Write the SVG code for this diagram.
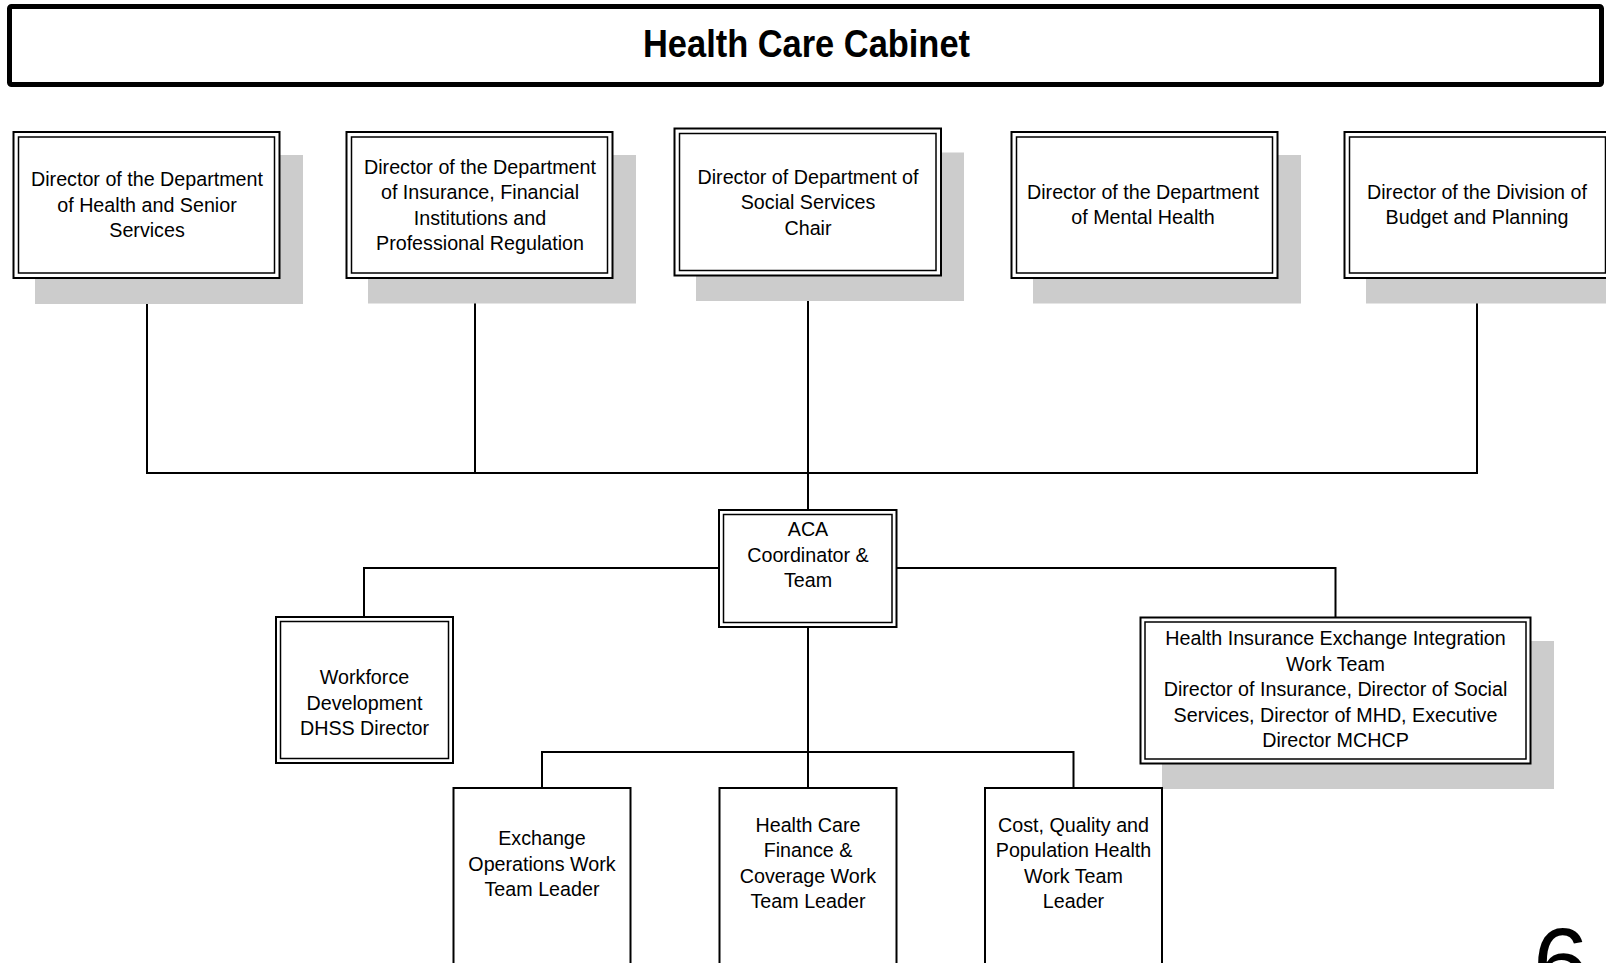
<svg xmlns="http://www.w3.org/2000/svg" width="1606" height="963" viewBox="0 0 1606 963">
<style>
  text { font-family: "Liberation Sans", Arial, sans-serif; font-size: 19.7px; fill: #000; text-anchor: middle; }
  .title { font-size: 39px; font-weight: bold; }
  .big { font-size: 100px; text-anchor: start; }
  .shadow { fill: #cccccc; stroke: none; }
  .outer { fill: #fff; stroke: #000; stroke-width: 2; }
  .inner { fill: none; stroke: #000; stroke-width: 1.5; }
  .single { fill: #fff; stroke: #000; stroke-width: 2; }
  .conn line, .conn polyline { fill: none; stroke: #000; stroke-width: 2; }
</style>
<rect width="1606" height="963" fill="#fff"/>

<g id="title">
  <rect x="9.5" y="6.5" width="1592" height="78" rx="2" fill="#fff" stroke="#000" stroke-width="5"/>
  <text class="title" x="806.5" y="57" textLength="327" lengthAdjust="spacingAndGlyphs">Health Care Cabinet</text>
</g>

<g class="conn" id="connectors">
  <line x1="147" y1="278" x2="147" y2="473"/>
  <line x1="475" y1="288" x2="475" y2="473"/>
  <line x1="808" y1="276" x2="808" y2="510"/>
  <line x1="1477" y1="278" x2="1477" y2="473"/>
  <line x1="146" y1="473" x2="1478" y2="473"/>
  <polyline points="719,568 364,568 364,617"/>
  <polyline points="897,568 1335.5,568 1335.5,617"/>
  <line x1="808" y1="627" x2="808" y2="788"/>
  <polyline points="542,788 542,752 1073.5,752 1073.5,788"/>
</g>

<g id="dhss">
  <rect class="shadow" x="35" y="155" width="268" height="149"/>
  <rect class="outer" x="13.5" y="132" width="266" height="146"/>
  <rect class="inner" x="18.5" y="137" width="256" height="136"/>
  <text x="147" y="186">Director of the Department</text>
  <text x="147" y="211.5">of Health and Senior</text>
  <text x="147" y="237">Services</text>
</g>

<g id="difp">
  <rect class="shadow" x="368" y="155" width="268" height="148.5"/>
  <rect class="outer" x="346.5" y="132" width="266" height="146"/>
  <rect class="inner" x="351.5" y="137" width="256" height="136"/>
  <text x="480" y="173.5">Director of the Department</text>
  <text x="480" y="199">of Insurance, Financial</text>
  <text x="480" y="224.5">Institutions and</text>
  <text x="480" y="250">Professional Regulation</text>
</g>

<g id="dss">
  <rect class="shadow" x="696" y="152.5" width="268" height="148.5"/>
  <rect class="outer" x="674.5" y="128.5" width="266.5" height="147"/>
  <rect class="inner" x="679.5" y="133.5" width="256.5" height="137"/>
  <text x="808" y="183.5">Director of Department of</text>
  <text x="808" y="209">Social Services</text>
  <text x="808" y="234.5">Chair</text>
</g>

<g id="dmh">
  <rect class="shadow" x="1033" y="155" width="268" height="148.5"/>
  <rect class="outer" x="1011.5" y="132" width="266" height="146"/>
  <rect class="inner" x="1016.5" y="137" width="256" height="136"/>
  <text x="1143" y="198.5">Director of the Department</text>
  <text x="1143" y="224">of Mental Health</text>
</g>

<g id="budget">
  <rect class="shadow" x="1366" y="155" width="268" height="148.5"/>
  <rect class="outer" x="1344.5" y="132" width="266" height="146"/>
  <rect class="inner" x="1349.5" y="137" width="256" height="136"/>
  <text x="1477" y="198.5">Director of the Division of</text>
  <text x="1477" y="224">Budget and Planning</text>
</g>

<g id="aca">
  <rect class="outer" x="719" y="510" width="177.5" height="117"/>
  <rect class="inner" x="723.5" y="514.5" width="168.5" height="108"/>
  <text x="808" y="536">ACA</text>
  <text x="808" y="561.5">Coordinator &amp;</text>
  <text x="808" y="587">Team</text>
</g>

<g id="workforce">
  <rect class="outer" x="276" y="617" width="177" height="146"/>
  <rect class="inner" x="280.5" y="621.5" width="168" height="137"/>
  <text x="364.5" y="684">Workforce</text>
  <text x="364.5" y="709.5">Development</text>
  <text x="364.5" y="735">DHSS Director</text>
</g>

<g id="hix">
  <rect class="shadow" x="1162" y="641" width="392" height="148"/>
  <rect class="outer" x="1140.5" y="617.5" width="390" height="146"/>
  <rect class="inner" x="1145" y="622" width="381" height="137"/>
  <text x="1335.5" y="645">Health Insurance Exchange Integration</text>
  <text x="1335.5" y="670.5">Work Team</text>
  <text x="1335.5" y="696">Director of Insurance, Director of Social</text>
  <text x="1335.5" y="721.5">Services, Director of MHD, Executive</text>
  <text x="1335.5" y="747">Director MCHCP</text>
</g>

<g id="exchange">
  <rect class="single" x="453.5" y="788" width="177" height="200"/>
  <text x="542" y="845">Exchange</text>
  <text x="542" y="870.5">Operations Work</text>
  <text x="542" y="896">Team Leader</text>
</g>

<g id="finance">
  <rect class="single" x="719.5" y="788" width="177" height="200"/>
  <text x="808" y="831.5">Health Care</text>
  <text x="808" y="857">Finance &amp;</text>
  <text x="808" y="882.5">Coverage Work</text>
  <text x="808" y="908">Team Leader</text>
</g>

<g id="cost">
  <rect class="single" x="985" y="788" width="177" height="200"/>
  <text x="1073.5" y="831.5">Cost, Quality and</text>
  <text x="1073.5" y="857">Population Health</text>
  <text x="1073.5" y="882.5">Work Team</text>
  <text x="1073.5" y="908">Leader</text>
</g>

<text class="big" x="1533" y="998">6</text>
</svg>
